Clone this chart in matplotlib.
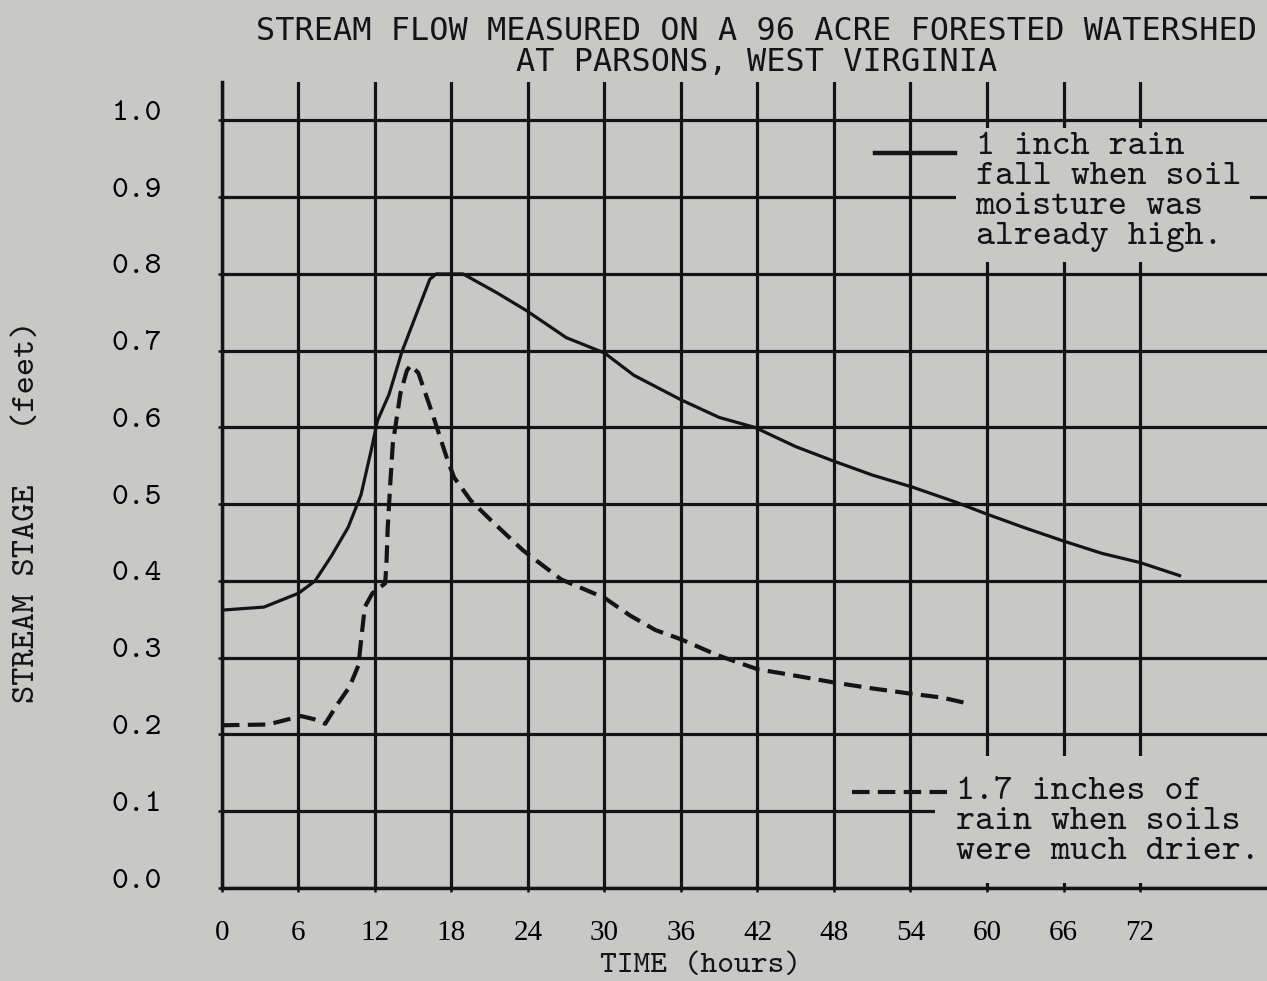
import matplotlib
matplotlib.use("Agg")
import matplotlib.pyplot as plt
import matplotlib.transforms as mtransforms
from matplotlib import font_manager
from matplotlib.patches import Rectangle

# 1 inch rain, soil moisture already high (solid line)
wet_hours = [0, 3.3, 6.0, 7.3, 8.6, 9.9, 10.9, 11.7, 12.2, 13.1, 14.1, 15.3, 16.3, 16.8,
             18.9, 21.5, 23.9, 27.0, 30.0, 32.3, 36.0, 39.0, 41.8, 45.0, 48.0, 51.0,
             54.2, 57.5, 60.0, 63.0, 66.0, 69.0, 72.0, 75.1]
wet_stage = [0.362, 0.366, 0.384, 0.400, 0.433, 0.470, 0.512, 0.570, 0.609, 0.643, 0.698,
             0.750, 0.793, 0.800, 0.800, 0.776, 0.752, 0.717, 0.697, 0.668, 0.636, 0.613,
             0.600, 0.575, 0.556, 0.538, 0.522, 0.503, 0.487, 0.469, 0.452, 0.436, 0.424,
             0.407]

# 1.7 inches of rain, soils much drier (dashed line)
dry_hours = [0, 3.6, 6.2, 7.2, 8.1, 9.0, 10.0, 10.7, 11.0, 11.2, 11.8, 12.8, 12.9, 13.0,
             13.2, 13.4, 14.0, 14.5, 14.8, 15.4, 16.4, 17.7, 18.2, 19.5, 21.1, 23.6, 26.6,
             30.0, 32.0, 34.0, 36.0, 38.9, 42.0, 44.5, 47.9, 51.0, 54.1, 56.5, 58.6]
dry_stage = [0.212, 0.213, 0.224, 0.220, 0.214, 0.238, 0.262, 0.290, 0.336, 0.366, 0.384,
             0.397, 0.423, 0.470, 0.527, 0.579, 0.645, 0.674, 0.681, 0.671, 0.623, 0.557,
             0.535, 0.505, 0.479, 0.440, 0.402, 0.378, 0.355, 0.336, 0.324, 0.303, 0.285,
             0.278, 0.268, 0.260, 0.253, 0.248, 0.240]

hour_ticks = [0, 6, 12, 18, 24, 30, 36, 42, 48, 54, 60, 66, 72]
stage_ticks = [0.0, 0.1, 0.2, 0.3, 0.4, 0.5, 0.6, 0.7, 0.8, 0.9, 1.0]
stage_labels = ["0.0", "0.1", "0.2", "0.3", "0.4", "0.5", "0.6", "0.7", "0.8", "0.9", "1.0"]

paper = "#c8c8c6"
ink = "#141414"
mono = "cmtt10"

names = {f.name for f in font_manager.fontManager.ttflist}
title_font = "Liberation Sans Narrow" if "Liberation Sans Narrow" in names else "DejaVu Sans Mono"

fig = plt.figure(figsize=(12.67, 9.81), dpi=100, facecolor=paper)
ax = fig.add_axes([0.1752, 0.0948, 0.8248, 0.8216], facecolor=paper)

ax.plot(wet_hours, wet_stage, color=ink, lw=2.3, zorder=3)
ax.plot(dry_hours, dry_stage, color=ink, lw=3.0, ls=(0, (4.2, 2.0)), zorder=3)

ax.set_xlim(0, 81.96)
ax.set_ylim(0, 1.05)
ax.set_xticks(hour_ticks)
ax.set_xticklabels([str(h) for h in hour_ticks], family="Liberation Serif", fontsize=21)
ax.set_yticks(stage_ticks)
ax.set_yticklabels(stage_labels, family=mono, fontsize=23)
ax.tick_params(axis="x", direction="inout", length=6, width=1.8, color=ink, pad=20)
ax.tick_params(axis="y", direction="inout", length=6, width=1.8, color=ink, pad=40)

up = mtransforms.ScaledTranslation(0, 0.10, fig.dpi_scale_trans)
for lab in ax.get_yticklabels():
    lab.set_transform(lab.get_transform() + up)

ax.set_axisbelow(True)
ax.grid(True, color=ink, lw=2.3)
for side in ["top", "right"]:
    ax.spines[side].set_visible(False)
for side in ["left", "bottom"]:
    ax.spines[side].set_color(ink)
    ax.spines[side].set_linewidth(2.5)

# paper showing through behind the typed notes
ax.add_patch(Rectangle((57.6, 0.815), 23.0, 0.175, facecolor=paper, edgecolor="none", zorder=1))
ax.add_patch(Rectangle((55.9, 0.006), 27.0, 0.166, facecolor=paper, edgecolor="none", zorder=1))

ax.plot([51.2, 57.5], [0.958, 0.958], color=ink, lw=3.2, zorder=3)
ax.plot([49.4, 56.9], [0.125, 0.125], color=ink, lw=3.0, ls=(0, (4.2, 2.0)), zorder=3)

ax.text(59.1, 0.907, "1 inch rain\nfall when soil\nmoisture was\nalready high.",
        family=mono, fontsize=26, color=ink, va="center", ha="left",
        linespacing=1.0, zorder=4)
ax.text(57.6, 0.086, "1.7 inches of\nrain when soils\nwere much drier.",
        family=mono, fontsize=26, color=ink, va="center", ha="left",
        linespacing=1.0, zorder=4)

fig.text(0.022, 0.478, "STREAM STAGE   (feet)", family=mono, fontsize=25, color=ink,
         rotation=90, ha="center", va="center")
fig.text(0.553, 0.002, "TIME (hours)", family=mono, fontsize=23, color=ink,
         ha="center", va="bottom")

title = fig.text(0.597, 0.984, "STREAM FLOW MEASURED ON A 96 ACRE FORESTED WATERSHED\nAT PARSONS, WEST VIRGINIA",
                 family=title_font, fontsize=22, color=ink, ha="center", va="top",
                 linespacing=1.0)
# fit the title width to the typed heading
r = fig.canvas.get_renderer()
w = title.get_window_extent(r).width
title.set_fontsize(22 * 998 / w)

fig.savefig("out.png", dpi=100, facecolor=paper)
